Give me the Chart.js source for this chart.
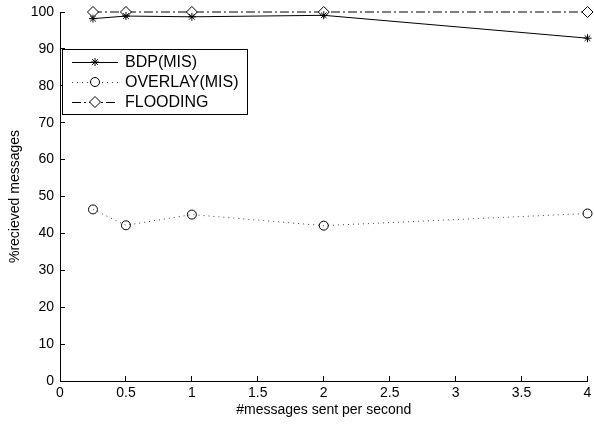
<!DOCTYPE html>
<html>
<head>
<meta charset="utf-8">
<script src="https://cdn.jsdelivr.net/npm/chart.js@4.4.0/dist/chart.umd.min.js"></script>
<style>
    html, body { margin: 0; padding: 0; background: #fff; }
    #wrap { width: 594px; height: 425px; }
</style>
</head>
<body>
<div id="wrap"><canvas id="myChart"></canvas></div>
<script>
// data
const xValues = [0.25, 0.5, 1, 2, 4];
const bdpMis = [98.2, 98.9, 98.7, 99.1, 92.9];
const overlayMis = [46.5, 42.2, 45.1, 42.1, 45.4];
const flooding = [100, 100, 100, 100, 100];
const seriesNames = ["BDP(MIS)", "OVERLAY(MIS)", "FLOODING"];

const FONT = "'Liberation Sans', Arial, sans-serif";

function toPoints(ys) {
    return xValues.map((x, i) => ({ x: x, y: ys[i] }));
}

// legend drawn inside the plot (top left), matlab style
const innerLegend = {
    id: "innerLegend",
    afterDraw(chart) {
        const ctx = chart.ctx;
        const left = 62, top = 49, w = 185, h = 65;
        ctx.save();
        ctx.fillStyle = "#fff";
        ctx.fillRect(left, top, w, h);
        ctx.strokeStyle = "#000";
        ctx.lineWidth = 1;
        ctx.strokeRect(left + 0.5, top + 0.5, w, h);
        ctx.font = "16px " + FONT;
        ctx.textBaseline = "middle";
        chart.data.datasets.forEach((ds, i) => {
            const y = top + 13 + i * 20;
            ctx.strokeStyle = ds.borderColor;
            ctx.setLineDash(ds.borderDash || []);
            ctx.beginPath();
            ctx.moveTo(left + 10, y + 0.5);
            ctx.lineTo(left + 56, y + 0.5);
            ctx.stroke();
            ctx.setLineDash([]);
            ctx.strokeStyle = "#000";
            ctx.fillStyle = "#fff";
            Chart.helpers.drawPoint(ctx, {
                pointStyle: ds.pointStyle,
                radius: ds.pointRadius,
                rotation: 0,
                borderWidth: 1
            }, left + 33, y);
            ctx.fillStyle = "#000";
            ctx.fillText(ds.label, left + 63, y + 1);
        });
        ctx.restore();
    }
};

const ctx = document.getElementById("myChart");

new Chart(ctx, {
    type: "line",
    data: {
        datasets: [
            {
                label: seriesNames[0],
                data: toPoints(bdpMis),
                borderColor: "#000",
                borderWidth: 1,
                pointStyle: "star",
                pointRadius: 4,
                pointBorderColor: "#000",
                pointBackgroundColor: "transparent",
                pointBorderWidth: 1,
                tension: 0,
                clip: false
            },
            {
                label: seriesNames[1],
                data: toPoints(overlayMis),
                borderColor: "#444",
                borderWidth: 1,
                borderDash: [1, 4],
                pointStyle: "circle",
                pointRadius: 4.5,
                pointBorderColor: "#000",
                pointBackgroundColor: "transparent",
                pointBorderWidth: 1,
                tension: 0,
                clip: false
            },
            {
                label: seriesNames[2],
                data: toPoints(flooding),
                borderColor: "#000",
                borderWidth: 1,
                borderDash: [9, 3, 2, 3],
                pointStyle: "rectRot",
                pointRadius: 5.5,
                pointBorderColor: "#000",
                pointBackgroundColor: "#fff",
                pointBorderWidth: 1,
                tension: 0,
                clip: false
            }
        ]
    },
    options: {
        responsive: true,
        maintainAspectRatio: false,
        animation: false,
        layout: { padding: { top: 12, right: 2, left: 0, bottom: 0 } },
        plugins: {
            legend: { display: false },
            tooltip: { enabled: false }
        },
        scales: {
            x: {
                type: "linear",
                min: 0,
                max: 4,
                ticks: {
                    stepSize: 0.5,
                    color: "#000",
                    font: { family: FONT, size: 14 },
                    padding: 9,
                    maxRotation: 0,
                    callback: (v) => String(+v.toFixed(2))
                },
                grid: { drawOnChartArea: false, tickLength: -5, color: "#000" },
                border: { color: "#000", width: 1 },
                title: {
                    display: true,
                    text: "#messages sent per second",
                    color: "#000",
                    font: { family: FONT, size: 14 },
                    padding: { top: 6, bottom: 6 }
                },
                afterFit(scale) {
                    scale.height = 44;
                    scale.paddingRight = 0;
                }
            },
            y: {
                min: 0,
                max: 100,
                ticks: {
                    stepSize: 10,
                    color: "#000",
                    font: { family: FONT, size: 14 },
                    padding: 11
                },
                grid: { drawOnChartArea: false, tickLength: -5, color: "#000" },
                border: { color: "#000", width: 1 },
                title: {
                    display: true,
                    text: "%recieved messages",
                    color: "#000",
                    font: { family: FONT, size: 14 },
                    padding: { top: 7, bottom: 0 }
                },
                afterFit(scale) {
                    scale.width = 60;
                    scale.paddingTop = 0;
                    scale.paddingBottom = 0;
                }
            }
        }
    },
    plugins: [innerLegend]
});
</script>
</body>
</html>
